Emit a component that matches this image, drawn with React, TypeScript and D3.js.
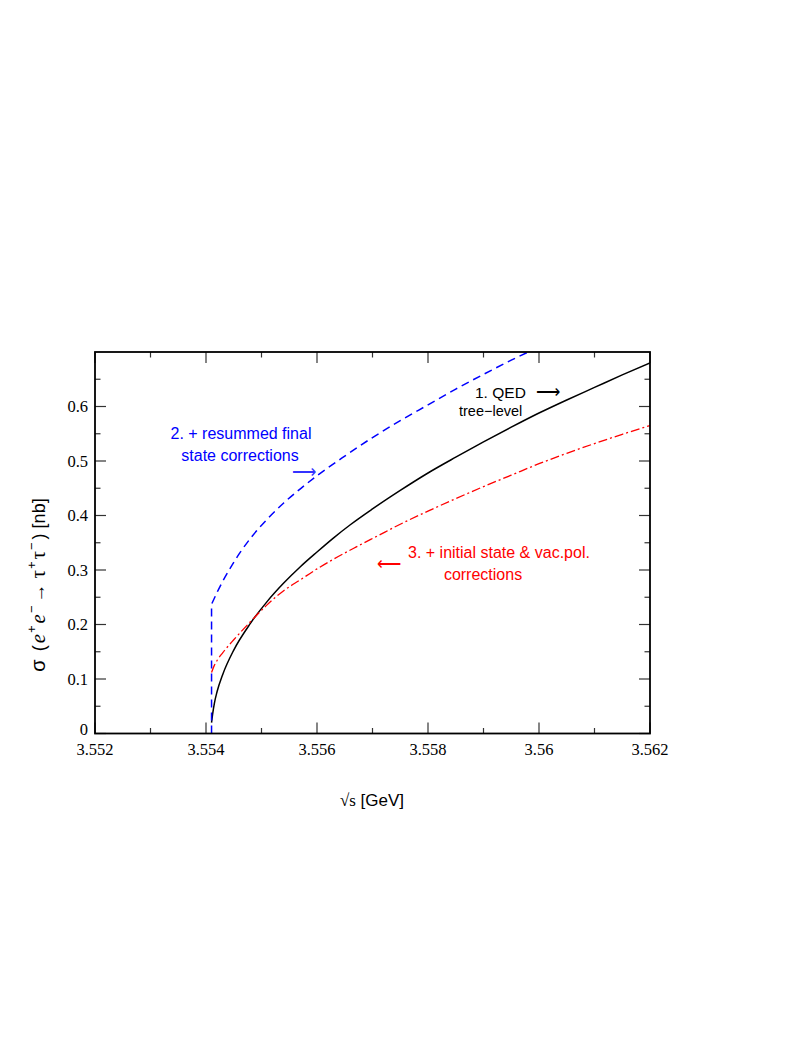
import React from "react";
import * as d3 from "d3";

// Threshold (2 m_tau) in GeV
const threshold = 3.5541;

// 1. QED tree-level (black, solid)
const treeX = [3.5541, 3.55412, 3.55415, 3.5542, 3.5543, 3.5545, 3.5548, 3.5551, 3.5554, 3.5557, 3.556, 3.5563, 3.5566, 3.557, 3.5575, 3.558, 3.5585, 3.559, 3.5595, 3.56, 3.5605, 3.561, 3.5615, 3.562];
const treeY = [0.02, 0.036, 0.055, 0.077, 0.108, 0.153, 0.202, 0.242, 0.276, 0.306, 0.333, 0.359, 0.383, 0.412, 0.446, 0.478, 0.507, 0.535, 0.562, 0.588, 0.612, 0.635, 0.658, 0.68];

// 2. + resummed final state corrections (blue, dashed)
const fsrX = [3.5541, 3.5542, 3.5543, 3.5544, 3.5545, 3.5546, 3.5548, 3.5551, 3.5554, 3.5557, 3.556, 3.5565, 3.557, 3.5575, 3.558, 3.5585, 3.559, 3.5595, 3.56];
const fsrY = [0.237, 0.259, 0.279, 0.297, 0.314, 0.33, 0.358, 0.393, 0.423, 0.449, 0.473, 0.509, 0.543, 0.574, 0.603, 0.632, 0.659, 0.685, 0.709];

// 3. + initial state & vac.pol. corrections (red, dash-dot)
const isrX = [3.5541, 3.55415, 3.5542, 3.5543, 3.5545, 3.5548, 3.5551, 3.5554, 3.5557, 3.556, 3.5563, 3.5567, 3.5571, 3.5575, 3.558, 3.5585, 3.559, 3.5595, 3.56, 3.5605, 3.561, 3.5615, 3.562];
const isrY = [0.112, 0.125, 0.134, 0.148, 0.172, 0.205, 0.236, 0.262, 0.282, 0.302, 0.32, 0.342, 0.363, 0.384, 0.408, 0.431, 0.453, 0.474, 0.495, 0.514, 0.532, 0.549, 0.565];

const xMajorTicks = [3.552, 3.554, 3.556, 3.558, 3.56, 3.562];
const xTickLabels = ["3.552", "3.554", "3.556", "3.558", "3.56", "3.562"];
const xMinorTicks = [3.553, 3.555, 3.557, 3.559, 3.561];
const yMajorTicks = [0, 0.1, 0.2, 0.3, 0.4, 0.5, 0.6];
const yTickLabels = ["0", "0.1", "0.2", "0.3", "0.4", "0.5", "0.6"];
const yMinorTicks = [0.05, 0.15, 0.25, 0.35, 0.45, 0.55, 0.65];

const W = 809;
const H = 1047;
const left = 95;
const right = 650;
const top = 352;
const bottom = 733.5;

export default function App() {
  const x = d3.scaleLinear().domain([3.552, 3.562]).range([left, right]);
  const y = d3.scaleLinear().domain([0, 0.7]).range([bottom, top]);

  const line = d3
    .line<[number, number]>()
    .x((d) => x(d[0]))
    .y((d) => y(d[1]))
    .curve(d3.curveMonotoneX);

  const treePts = treeX.map((v, i) => [v, treeY[i]] as [number, number]);
  const fsrPts = fsrX.map((v, i) => [v, fsrY[i]] as [number, number]);
  const isrPts = isrX.map((v, i) => [v, isrY[i]] as [number, number]);

  const treePath = line(treePts) || "";
  const fsrCurve = line(fsrPts) || "";
  const fsrPath = `M${x(threshold)},${y(0)}L` + fsrCurve.slice(1);
  const isrPath = line(isrPts) || "";

  const serif = "'Liberation Serif', 'Times New Roman', serif";
  const sans = "'Liberation Sans', Arial, Helvetica, sans-serif";
  const majorLen = 11;
  const minorLen = 5.5;
  const tickColor = "#333";

  return (
    <svg
      width={W}
      height={H}
      viewBox={`0 0 ${W} ${H}`}
      style={{ position: "absolute", left: 0, top: 0, background: "#fff" }}
    >
      <defs>
        <clipPath id="plotClip">
          <rect x={left} y={top} width={right - left} height={bottom - top} />
        </clipPath>
      </defs>

      {/* ticks */}
      <g stroke={tickColor} strokeWidth={1.2}>
        {xMajorTicks.map((t) => (
          <g key={"xm" + t}>
            <line x1={x(t)} x2={x(t)} y1={bottom} y2={bottom - majorLen} />
            <line x1={x(t)} x2={x(t)} y1={top} y2={top + majorLen} />
          </g>
        ))}
        {xMinorTicks.map((t) => (
          <g key={"xn" + t}>
            <line x1={x(t)} x2={x(t)} y1={bottom} y2={bottom - minorLen} />
            <line x1={x(t)} x2={x(t)} y1={top} y2={top + minorLen} />
          </g>
        ))}
        {yMajorTicks.map((t) => (
          <g key={"ym" + t}>
            <line x1={left} x2={left + majorLen} y1={y(t)} y2={y(t)} />
            <line x1={right} x2={right - majorLen} y1={y(t)} y2={y(t)} />
          </g>
        ))}
        {yMinorTicks.map((t) => (
          <g key={"yn" + t}>
            <line x1={left} x2={left + minorLen} y1={y(t)} y2={y(t)} />
            <line x1={right} x2={right - minorLen} y1={y(t)} y2={y(t)} />
          </g>
        ))}
      </g>

      {/* curves */}
      <g clipPath="url(#plotClip)" fill="none">
        <path d={treePath} stroke="#000" strokeWidth={1.5} />
        <path d={fsrPath} stroke="#0000ff" strokeWidth={1.5} strokeDasharray="8,5" />
        <path d={isrPath} stroke="#ff0000" strokeWidth={1.3} strokeDasharray="9,3,2,3" />
      </g>

      {/* frame */}
      <rect
        x={left}
        y={top}
        width={right - left}
        height={bottom - top}
        fill="none"
        stroke="#000"
        strokeWidth={1.8}
      />

      {/* tick labels */}
      <g fontFamily={serif} fontSize={16.5} fill="#000">
        {xMajorTicks.map((t, i) => (
          <text key={"xl" + t} x={x(t)} y={755} textAnchor="middle">
            {xTickLabels[i]}
          </text>
        ))}
        {yMajorTicks.map((t, i) => (
          <text
            key={"yl" + t}
            x={88}
            y={i === 0 ? y(t) + 1 : y(t) + 5.5}
            textAnchor="end"
          >
            {yTickLabels[i]}
          </text>
        ))}
      </g>

      {/* axis titles */}
      <text x={372} y={806} textAnchor="middle" fontSize={17} fill="#000">
        <tspan fontFamily={serif}>√s</tspan>
        <tspan fontFamily={sans}> [GeV]</tspan>
      </text>
      <text
        transform={`translate(45,585) rotate(-90)`}
        textAnchor="middle"
        fontFamily={sans}
        fontSize={18}
        fill="#000"
      >
        <tspan fontFamily={sans} fontSize={20}>σ</tspan>
        <tspan dx={3}> (</tspan>
        <tspan fontFamily={serif} fontStyle="italic" fontSize={21} dx={2}>e</tspan>
        <tspan fontSize={13} dy={-9} dx={1}>+</tspan>
        <tspan fontFamily={serif} fontStyle="italic" fontSize={21} dy={9} dx={2}>e</tspan>
        <tspan fontSize={13} dy={-9} dx={1}>−</tspan>
        <tspan dy={9} dx={3} fontFamily={serif} fontSize={19}>→</tspan>
        <tspan fontFamily={serif} fontSize={21} dx={5}>τ</tspan>
        <tspan fontSize={13} dy={-9} dx={1}>+</tspan>
        <tspan fontFamily={serif} fontSize={21} dy={9} dx={2}>τ</tspan>
        <tspan fontSize={13} dy={-9} dx={1}>−</tspan>
        <tspan dy={9} dx={3}>) [nb]</tspan>
      </text>

      {/* annotations */}
      <g fontFamily={sans} fontSize={16}>
        <text x={475} y={398} fill="#000" fontSize={15.5}>1. QED</text>
        <text x={536} y={398} fill="#000" fontSize={17}>⟶</text>
        <text x={459} y={416} fill="#000" fontSize={14.5}>tree−level</text>

        <text x={241} y={439} fill="#0000ff" textAnchor="middle">2. + resummed final</text>
        <text x={240} y={461} fill="#0000ff" textAnchor="middle">state corrections</text>
        <text x={292} y={478} fill="#3333ff" fontSize={17}>⟶</text>

        <text x={408} y={558} fill="#ff0000">3. + initial state &amp; vac.pol.</text>
        <text x={483} y={580} fill="#ff0000" textAnchor="middle">corrections</text>
        <text x={377} y={570} fill="#ff0000" fontSize={17}>⟵</text>
      </g>
    </svg>
  );
}
